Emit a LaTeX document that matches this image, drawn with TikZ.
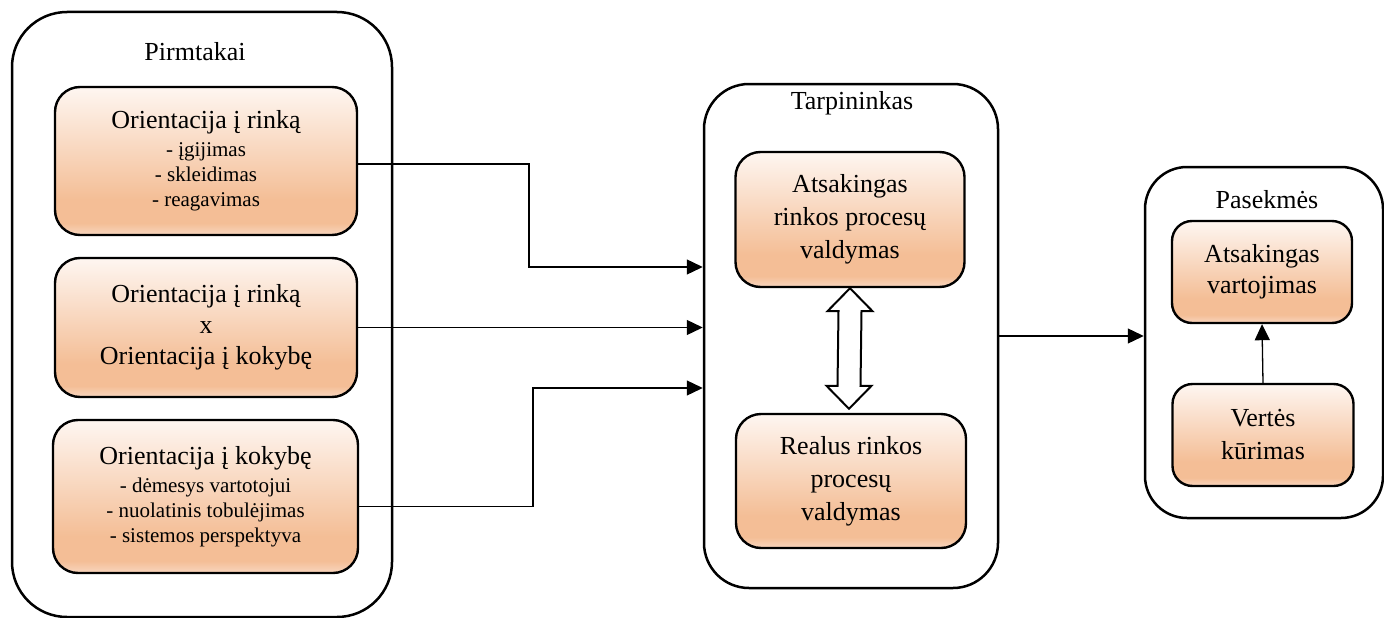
\documentclass[tikz,border=0pt]{standalone}
\usepackage{fontspec}
\setmainfont{Liberation Serif}
\usetikzlibrary{arrows.meta,calc}

% orange box fill: pale at the top, deepest near the bottom, a little lighter at the very edge
\definecolor{orW}{HTML}{FEF6F1}
\definecolor{orD}{HTML}{F4BE96}
\definecolor{orL}{HTML}{F8D6BF}
\pgfdeclareverticalshading{orangefill}{100bp}{color(0bp)=(orL); color(25bp)=(orL); color(29bp)=(orD); color(37bp)=(orD); color(75bp)=(orW); color(100bp)=(orW)}

\newcommand\fbig{\fontsize{26}{31}\selectfont}
\newcommand\fbigwide{\fontsize{26}{33}\selectfont}
\newcommand\fsmall{\fontsize{21}{25}\selectfont}

\tikzset{
  groupbox/.style={draw, line width=2.5pt, rounded corners=#1, inner sep=0pt},
  itembox/.style={draw, line width=2.4pt, rounded corners=25pt, shading=orangefill,
                  align=center, inner sep=0pt, font=\fbig},
  heading/.style={anchor=base, inner sep=0pt, font=\fbig},
  conn/.style={line width=1.3pt, -{Triangle[length=16pt,width=15pt]}},
  dblarrow/.style={draw, line width=2pt, fill=white, line join=miter},
}

\begin{document}
\begin{tikzpicture}[x=1pt, y=-1pt]
\useasboundingbox (0,0) rectangle (1384,618);

% three groups
\node[groupbox=55pt, minimum width=380pt, minimum height=605pt] (pirm) at (202,314.5) {};
\node[groupbox=45pt, minimum width=294pt, minimum height=504pt] (tarp) at (851,336) {};
\node[groupbox=42pt, minimum width=238pt, minimum height=351pt] (pas) at (1264,342.5) {};

\node[heading] (tpirm) at (195,60) {Pirmtakai};
\node[heading] (ttarp) at (852,109) {Tarpininkas};
\node[heading] (tpas) at (1267,208) {Pasekmės};

% antecedents
\node[itembox, font=\fsmall, minimum width=302pt, minimum height=148pt] (b1) at (206,161)
  {{\fbig Orientacija į rinką}\\[3pt] - įgijimas\\ - skleidimas\\ - reagavimas};
\node[itembox, minimum width=302pt, minimum height=139pt] (b2) at (206,327.5)
  {Orientacija į rinką\\ x\\ Orientacija į kokybę};
\node[itembox, font=\fsmall, minimum width=305pt, minimum height=153pt] (b3) at (205.5,496.5)
  {{\fbig Orientacija į kokybę}\\[3pt] - dėmesys vartotojui\\ - nuolatinis tobulėjimas\\ - sistemos perspektyva};

% mediator
\node[itembox, font=\fbigwide, minimum width=229pt, minimum height=135pt] (m1) at (850,219.5)
  {Atsakingas\\ rinkos procesų\\ valdymas};
\node[itembox, font=\fbigwide, minimum width=230pt, minimum height=134pt] (m2) at (851,481)
  {Realus rinkos\\ procesų\\ valdymas};

% consequences
\node[itembox, rounded corners=20pt, minimum width=180pt, minimum height=102pt] (p1) at (1262,272)
  {Atsakingas\\ vartojimas};
\node[itembox, rounded corners=20pt, font=\fbigwide, minimum width=181pt, minimum height=102pt] (p2) at (1263,435)
  {Vertės\\ kūrimas};

% two-way arrow between the mediator boxes
\coordinate (at) at (m1.south);
\coordinate (ab) at ($(m2.north)+(-2,-4)$);
\draw[dblarrow] (at) -- ($(at)+(22.5,23)$) -- ($(at)+(11.5,23)$) -- ($(ab)+(11.5,-23)$)
  -- ($(ab)+(22.5,-23)$) -- (ab) -- ($(ab)+(-22.5,-23)$) -- ($(ab)+(-11.5,-23)$)
  -- ($(at)+(-11.5,23)$) -- ($(at)+(-22.5,23)$) -- cycle;

% connectors
\coordinate (k1) at (529,267);
\coordinate (k3) at (533,388);
\draw[conn] ($(b1.east)+(0,3)$) -| (k1) -- (k1 -| tarp.west);
\draw[conn] (b2.east) -- (b2.east -| tarp.west);
\draw[conn] ($(b3.east)+(0,10)$) -| (k3) -- (k3 -| tarp.west);
\draw[conn] (tarp.east) -- (tarp.east -| pas.west);
\draw[conn] (p2.north) -- (p1.south);
\end{tikzpicture}
\end{document}
